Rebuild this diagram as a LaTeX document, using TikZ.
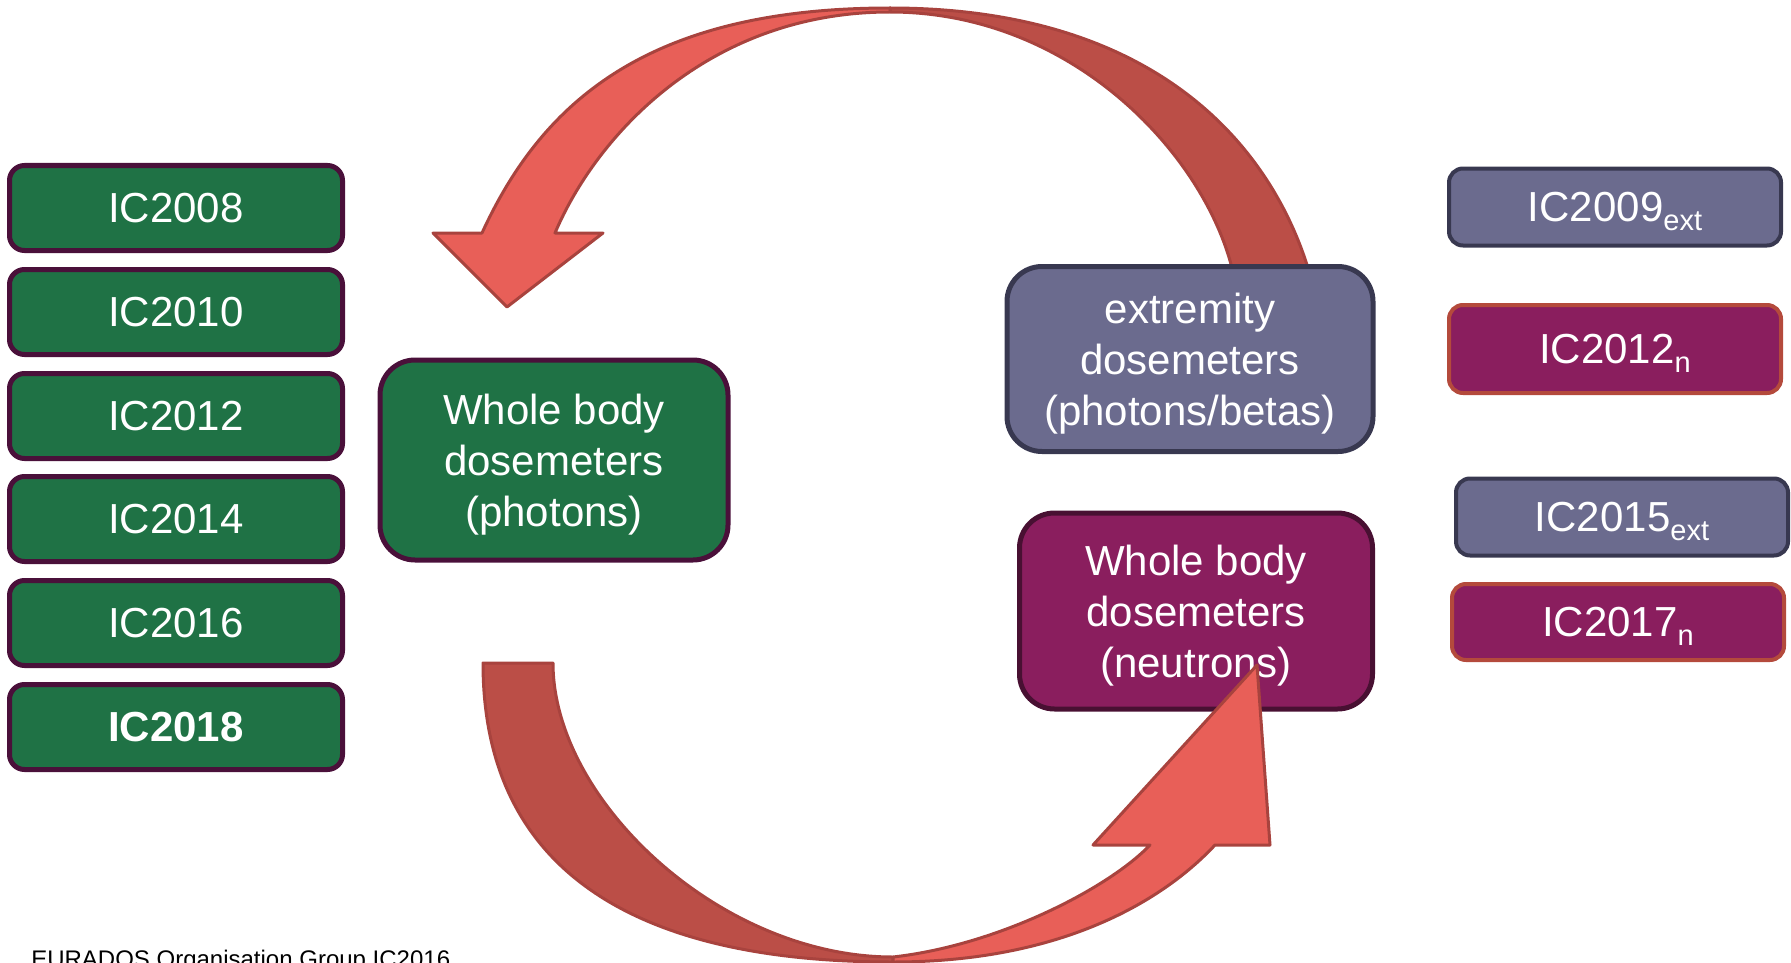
\documentclass[tikz,border=0pt]{standalone}
\usepackage{fontspec}
\setmainfont{Liberation Sans}
\usetikzlibrary{shapes}
\definecolor{box_green}{RGB}{31,114,69}
\definecolor{edge_green}{RGB}{74,16,58}
\definecolor{box_gray}{RGB}{107,107,142}
\definecolor{edge_gray}{RGB}{56,56,80}
\definecolor{box_purple}{RGB}{138,30,94}
\definecolor{edge_purple}{RGB}{72,16,50}
\definecolor{edge_rust}{RGB}{180,74,60}
\definecolor{arrow_light}{RGB}{232,95,88}
\definecolor{arrow_dark}{RGB}{187,78,71}
\definecolor{arrow_edge}{RGB}{168,67,62}
\newcommand{\lowsub}[1]{\raisebox{-9pt}{\fontsize{29}{29}\selectfont #1}}

\begin{document}
\begin{tikzpicture}[x=1pt,y=-1pt,semithick]
    \tikzstyle{box}=[rectangle, text=white, font=\fontsize{42}{51}\selectfont, align=center, inner sep=0pt]
    \tikzstyle{year}=[style=box, rounded corners=15pt, minimum width=333pt, minimum height=85pt, line width=5pt, fill=box_green, draw=edge_green]
    \tikzstyle{ext}=[style=box, rounded corners=14pt, minimum width=332pt, line width=4pt, fill=box_gray, draw=edge_gray, text depth=0pt]
    \tikzstyle{neut}=[style=box, rounded corners=14pt, minimum width=332pt, line width=4pt, fill=box_purple, draw=edge_rust, text depth=0pt]
    \tikzstyle{group}=[style=box, rounded corners=35pt, line width=5pt, text depth=-5pt]
    \tikzstyle{band}=[draw=arrow_edge, line width=3pt, line join=round]
    \useasboundingbox (0,0) rectangle (1791,963);

    % arrow from extremity back to photons
    \path[band, fill=arrow_dark]
      (890,8) .. controls (1150,8) and (1268,140) .. (1308,268)
      -- (1232,268) .. controls (1202,151) and (1070,12) .. (890,12) -- cycle;
    \path[band, fill=arrow_light]
      (482,233) .. controls (543,100) and (650,8) .. (890,8)
      -- (890,12) .. controls (710,12) and (597,134) .. (555,233)
      -- (603,233) -- (507,307) -- (433,233) -- cycle;

    \node[year] (Y08) at (176,208) {IC2008};
    \node[year] (Y10) at (176,312) {IC2010};
    \node[year] (Y12) at (176,416) {IC2012};
    \node[year] (Y14) at (176,519) {IC2014};
    \node[year] (Y16) at (176,623) {IC2016};
    \node[year] (Y18) at (176,727) {\bfseries IC2018};

    \node[group, fill=box_green, draw=edge_green, minimum width=348pt, minimum height=200pt] (WBP) at (554,460) {Whole body\\dosemeters\\(photons)};
    \node[group, fill=box_gray, draw=edge_gray, minimum width=366pt, minimum height=185pt] (EXT) at (1190,359) {extremity\\dosemeters\\(photons/betas)};
    \node[group, fill=box_purple, draw=edge_purple, minimum width=353pt, minimum height=196pt] (WBN) at (1196,611) {Whole body\\dosemeters\\(neutrons)};

    \node[ext, minimum height=77pt] (E09) at (1615,207) {IC2009\lowsub{ext}};
    \node[neut, minimum height=88pt] (N12) at (1615,349) {IC2012\lowsub{n}};
    \node[ext, minimum height=77pt] (E15) at (1622,517) {IC2015\lowsub{ext}};
    \node[neut, minimum height=76pt] (N17) at (1618,622) {IC2017\lowsub{n}};

    % arrow from photons over to neutrons
    \path[band, fill=arrow_dark]
      (483,663) -- (553,663) .. controls (553,800) and (720,957) .. (893,957)
      -- (893,962) .. controls (620,962) and (483,860) .. (483,663) -- cycle;
    \path[band, fill=arrow_light]
      (893,962) .. controls (1093,962) and (1186,876) .. (1215,845)
      -- (1270,845) -- (1257,665) -- (1093,845) -- (1150,845)
      .. controls (1110,887) and (1000,945) .. (893,957) -- cycle;

    \node[anchor=base west, inner sep=0pt, font=\fontsize{24}{24}\selectfont] (foot) at (31,967) {EURADOS Organisation Group IC2016};
\end{tikzpicture}
\end{document}
